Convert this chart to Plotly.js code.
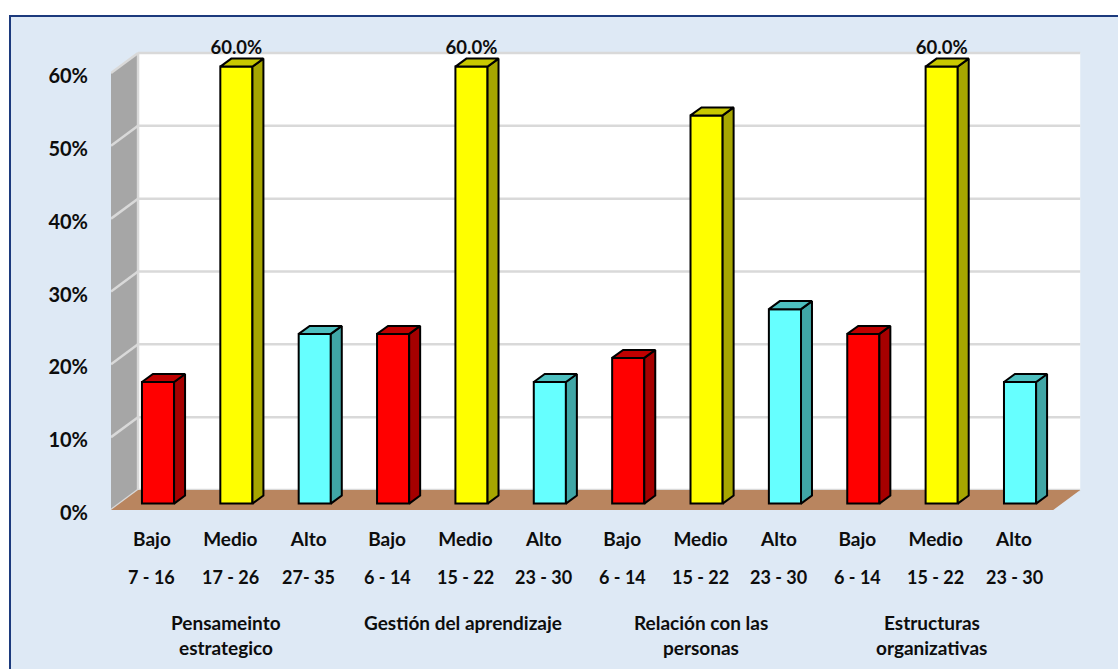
<!DOCTYPE html>
<html>
<head>
<meta charset="utf-8">
<script src="https://cdn.plot.ly/plotly-3.0.1.min.js"></script>
<style>
  html, body { margin: 0; padding: 0; background: #ffffff; overflow: hidden; }
  #panel { position: absolute; left: 9px; top: 15px; width: 1120px; height: 670px;
           background: #dee9f5; border: 2px solid #1c3a7d; box-sizing: border-box; }
  #chart { position: absolute; left: 0; top: 0; width: 1118px; height: 669px; }
</style>
</head>
<body>
<div id="panel"></div>
<div id="chart"></div>
<script>
// Percentage of respondents per level, grouped by dimension
const levels = ["Bajo", "Medio", "Alto", "Bajo", "Medio", "Alto", "Bajo", "Medio", "Alto", "Bajo", "Medio", "Alto"];
const ranges = ["7 - 16", "17 - 26", "27- 35", "6 - 14", "15 - 22", "23 - 30", "6 - 14", "15 - 22", "23 - 30", "6 - 14", "15 - 22", "23 - 30"];
const values = [16.7, 60, 23.3, 23.3, 60, 16.7, 20, 53.3, 26.7, 23.3, 60, 16.7];
const labelled = [false, true, false, false, true, false, false, false, false, false, true, false];
const groupCentres = [0.95, 3.97, 7, 9.95];
const groupLines = [["Pensameinto", "estrategico"], ["Gestión del aprendizaje"], ["Relación con las", "personas"], ["Estructuras", "organizativas"]];
const yTicks = [0, 10, 20, 30, 40, 50, 60];

const frontColors = { Bajo: "#ff0000", Medio: "#ffff00", Alto: "#66ffff" };
const sideColors = { Bajo: "#a60000", Medio: "#a6a600", Alto: "#40a6a6" };
const topColors = { Bajo: "#c00000", Medio: "#c8c800", Alto: "#4dbfbf" };

// Oblique projection, in data units
const wallDx = 0.345, wallDy = 2.75;
const barDx = 0.14, barDy = 1.1;
const barShift = 0.077, barBase = 0.88, barWidth = 0.41;
const xMin = -0.523, xMax = 12.327, yMax = 67.69, floorRight = 11.5;

const ink = "#0d0d0d";
const fontFamily = "Lato, 'Open Sans', sans-serif";
const gridColor = "#d9d9d9";

function poly(pts, fill) {
  const path = pts.map((p, i) => (i ? "L" : "M") + p[0] + "," + p[1]).join(" ") + " Z";
  return { type: "path", xref: "x", yref: "y", layer: "below", path: path,
           fillcolor: fill, line: { color: fill, width: 0 } };
}
function seg(x0, y0, x1, y1) {
  return { type: "line", xref: "x", yref: "y", layer: "below", x0, y0, x1, y1,
           line: { color: gridColor, width: 2.5 } };
}

// Walls, floor and the gridlines that run across them
const wallTop = yTicks[yTicks.length - 1];
const shapes = [
  poly([[xMin + wallDx, wallDy], [floorRight + wallDx, wallDy], [floorRight + wallDx, wallTop + wallDy], [xMin + wallDx, wallTop + wallDy]], "#ffffff"),
  poly([[xMin, 0], [xMin + wallDx, wallDy], [xMin + wallDx, wallTop + wallDy], [xMin, wallTop]], "#a6a6a6")
];
yTicks.forEach(v => {
  shapes.push(seg(xMin + wallDx, v + wallDy, floorRight + wallDx, v + wallDy));
  shapes.push(seg(xMin, v, xMin + wallDx, v + wallDy));
});
shapes.push(seg(xMin + wallDx, wallDy, xMin + wallDx, wallTop + wallDy));
shapes.push(poly([[xMin, 0], [floorRight, 0], [floorRight + wallDx, wallDy], [xMin + wallDx, wallDy]], "#b9855f"));

const idx = values.map((_, i) => i);
const traces = [{
  type: "bar",
  x: idx.map(i => i + barShift),
  y: values,
  base: values.map(() => barBase),
  width: barWidth,
  marker: { color: levels.map(l => frontColors[l]), line: { color: "#000000", width: 2 } },
  hoverinfo: "skip",
  showlegend: false
}];

// Side and top faces of each bar
idx.forEach(i => {
  const right = i + barShift + barWidth / 2, left = i + barShift - barWidth / 2;
  const bottom = barBase, head = barBase + values[i];
  const face = (xs, ys, color) => ({
    type: "scatter", mode: "lines", x: xs, y: ys, fill: "toself", fillcolor: color,
    line: { color: "#000000", width: 2 }, hoverinfo: "skip", showlegend: false
  });
  traces.push(face([right, right + barDx, right + barDx, right, right],
                   [bottom, bottom + barDy, head + barDy, head, bottom], sideColors[levels[i]]));
  traces.push(face([left, left + barDx, right + barDx, right, left],
                   [head, head + barDy, head + barDy, head, head], topColors[levels[i]]));
});

// Value labels above the tallest bars
const shown = idx.filter(i => labelled[i]);
traces.push({
  type: "scatter", mode: "text",
  x: shown.map(i => i + barShift),
  y: shown.map(i => values[i] + barBase + barDy),
  text: shown.map(i => values[i].toFixed(1) + "%"),
  textposition: "top center",
  textfont: { family: fontFamily, size: 18.5, color: ink, weight: 700 },
  cliponaxis: false, hoverinfo: "skip", showlegend: false
});

// Lower rows of the category axis
const note = (x, text, shift, size) => ({
  xref: "x", yref: "y", x, y: 0, yshift: shift, text, showarrow: false, xanchor: "center", yanchor: "middle",
  font: { family: fontFamily, size, color: ink }
});
const annotations = [];
idx.forEach(i => annotations.push(note(i, "<b>" + ranges[i] + "</b>", -67, 18)));
groupLines.forEach((lines, g) => lines.forEach((line, k) => {
  annotations.push(note(groupCentres[g], "<b>" + line + "</b>", -112 - 25 * k, 19));
}));

const layout = {
  width: 1118, height: 669,
  margin: { l: 111, r: 0, t: 17, b: 159, pad: 0 },
  paper_bgcolor: "rgba(0,0,0,0)", plot_bgcolor: "rgba(0,0,0,0)",
  showlegend: false, shapes, annotations,
  xaxis: {
    type: "linear", range: [xMin, xMax], tickmode: "array", tickvals: idx, ticktext: levels.map(l => "<b>" + l + "</b>"),
    showgrid: false, zeroline: false, showline: false,
    ticks: "outside", ticklen: 12, tickcolor: "rgba(0,0,0,0)",
    tickfont: { family: fontFamily, size: 19, color: ink }, tickangle: 0
  },
  yaxis: {
    range: [0, yMax], tickmode: "array", tickvals: yTicks, ticktext: yTicks.map(v => "<b>" + v + "%</b>"),
    showgrid: false, zeroline: false, showline: false,
    ticks: "outside", ticklen: 18, tickcolor: "rgba(0,0,0,0)", ticklabelshift: 3,
    tickfont: { family: fontFamily, size: 20, color: ink }
  }
};

Plotly.newPlot("chart", traces, layout, { displayModeBar: false, staticPlot: true });
</script>
</body>
</html>
